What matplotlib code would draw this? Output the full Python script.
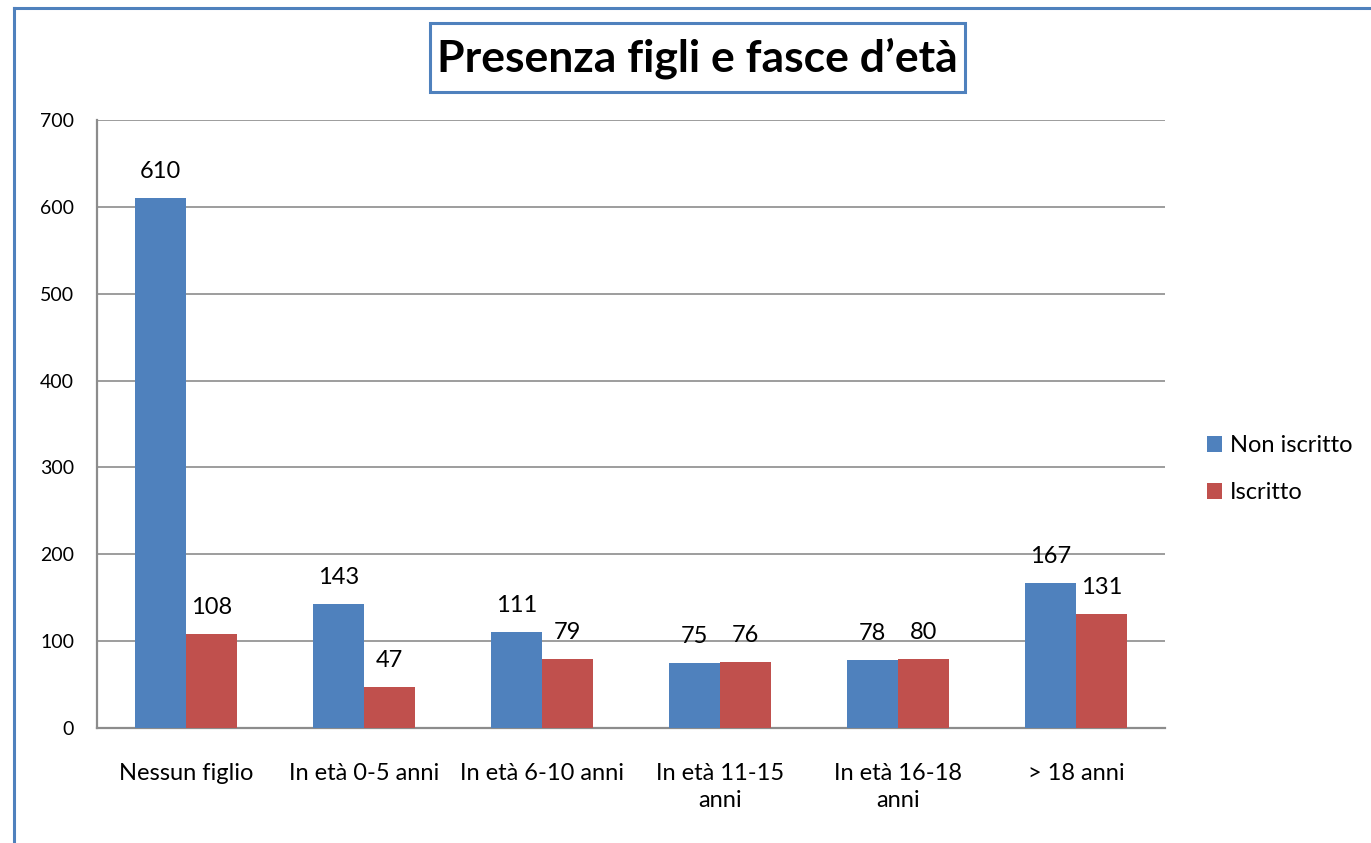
import matplotlib
matplotlib.use("Agg")
import matplotlib.pyplot as plt
from matplotlib.lines import Line2D
from matplotlib.patches import Rectangle
import numpy as np

categories = ["Nessun figlio", "In età 0-5 anni", "In età 6-10 anni",
              "In età 11-15\nanni", "In età 16-18\nanni", "> 18 anni"]
non_iscritto = [610, 143, 111, 75, 78, 167]
iscritto = [108, 47, 79, 76, 80, 131]
series_names = ["Non iscritto", "Iscritto"]
yticks = [0, 100, 200, 300, 400, 500, 600, 700]
title = "Presenza figli e fasce d’età"

plt.rcParams['font.family'] = ['Lato', 'DejaVu Sans']

W, H = 1371, 843
fig = plt.figure(figsize=(W / 100, H / 100), dpi=100)

border = '#4F81BD'
# outer border (only left/top visible in the frame)
fig.add_artist(Line2D([13.5 / W, 13.5 / W], [-0.05, (H - 7.5) / H], transform=fig.transFigure,
                      color=border, linewidth=2.2, solid_capstyle='projecting'))
fig.add_artist(Line2D([13.5 / W, 1.1], [(H - 7.5) / H, (H - 7.5) / H], transform=fig.transFigure,
                      color=border, linewidth=2.2, solid_capstyle='projecting'))

ax = fig.add_axes([97 / W, (H - 728) / H, (1165 - 97) / W, (728 - 120) / H])
x = np.arange(len(categories))
w = 0.287
blue, red = '#4F81BD', '#C0504D'
b1 = ax.bar(x - w / 2, non_iscritto, w, color=blue, label=series_names[0], zorder=3)
b2 = ax.bar(x + w / 2, iscritto, w, color=red, label=series_names[1], zorder=3)

FS = 17
for bars, vals in ((b1, non_iscritto), (b2, iscritto)):
    for r, v in zip(bars, vals):
        ax.annotate(str(v), (r.get_x() + r.get_width() / 2, v), xytext=(0, 19),
                    textcoords='offset points', ha='center', va='center',
                    fontsize=FS, color='black')

ax.set_xlim(-0.5, len(categories) - 0.5)
ax.set_ylim(0, 700)
ax.set_yticks(yticks)
ax.set_yticklabels([str(t) for t in yticks])
ax.set_xticks(x)
ax.set_xticklabels(categories, fontsize=FS, linespacing=1.38, va='top')
ax.tick_params(axis='y', length=0, pad=16.5, labelsize=14)
ax.tick_params(axis='x', length=0, pad=25)
ax.yaxis.grid(True, color='#8C8C8C', linewidth=1.2, zorder=0)
ax.set_axisbelow(True)
for s in ('top', 'right'):
    ax.spines[s].set_visible(False)
for s in ('left', 'bottom'):
    ax.spines[s].set_color('#8C8C8C')
    ax.spines[s].set_linewidth(1.6)

leg = fig.legend(handles=[b1, b2], labels=series_names, loc='upper left',
                 bbox_to_anchor=(1198 / W, (H - 426) / H), frameon=False,
                 fontsize=FS, handlelength=0.62, handleheight=0.62,
                 handletextpad=0.35, labelspacing=1.1, borderaxespad=0)

fig.add_artist(Rectangle((430 / W, (H - 92) / H), (965 - 430) / W, (92 - 23) / H,
                         transform=fig.transFigure, facecolor='white',
                         edgecolor=border, linewidth=2.2))
fig.text((430 + 965) / 2 / W, (H - 58) / H, title, ha='center', va='center',
         fontsize=32, fontweight='bold')

fig.savefig('out.png', dpi=100)
